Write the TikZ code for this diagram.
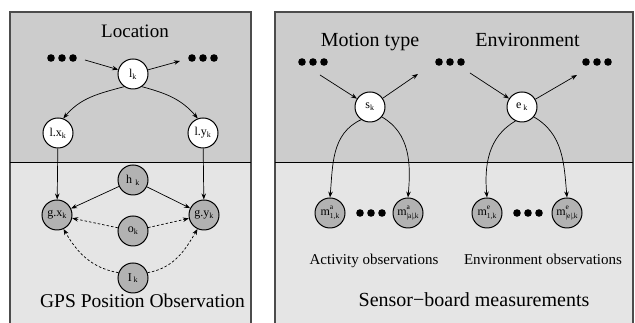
\documentclass[tikz,border=0pt]{standalone}
\usepackage{fontspec}
\setmainfont{Liberation Serif}
\usetikzlibrary{arrows.meta}

% measurement node label: m with stacked super- and subscript
\newcommand{\mlab}[2]{m\makebox[0pt][l]{\raisebox{1.05ex}{\fontsize{7.5}{8}\selectfont #1}}\raisebox{-0.6ex}{\fontsize{7.5}{8}\selectfont #2}}

\begin{document}
\begin{tikzpicture}[
    x=1pt, y=1pt,
    frame/.style={draw=black!70,line width=1.2pt},
    hid/.style={circle,draw,line width=1pt,fill=white,minimum size=30pt,inner sep=0pt,font=\fontsize{12}{14}\selectfont},
    obs/.style={hid,fill=black!30},
    arr/.style={-{Stealth[length=6pt,width=4.5pt]},line width=0.7pt},
    darr/.style={arr,dash pattern=on 2.5pt off 2pt},
    dotrow/.style={minimum width=32pt,minimum height=9pt,inner sep=0pt,
      path picture={\foreach \d in {-11,0,11}
        \fill ([xshift=\d pt]path picture bounding box.center) circle (3.8pt);}},
    big/.style={anchor=base,font=\fontsize{20}{22}\selectfont},
    small/.style={anchor=base,font=\fontsize{15}{17}\selectfont},
  ]
  \useasboundingbox (0,0) rectangle (635,323);

  % panels
  \fill[black!20] (10,161) rectangle (251,311);
  \fill[black!10] (10,0) rectangle (251,161);
  \draw[frame] (10,0) -- (10,311) -- (251,311) -- (251,0);
  \draw[line width=0.8pt] (10,161) -- (251,161);
  \fill[black!20] (275,161) rectangle (633,311);
  \fill[black!10] (275,0) rectangle (633,161);
  \draw[frame] (275,0) -- (275,311) -- (633,311) -- (633,0);
  \draw[line width=0.8pt] (275,161) -- (633,161);

  % location model
  \node[big,font=\fontsize{19}{21}\selectfont] (loc) at (135,285) {Location};
  \node[dotrow] (dl) at (62,265) {};
  \node[dotrow] (dr) at (203,265) {};
  \coordinate (lin) at (85,263);
  \coordinate (lout) at (180,262);
  \node[hid] (lk) at (133,249) {l\textsubscript{k}};
  \node[hid] (lx) at (58,190) {l.x\textsubscript{k}};
  \node[hid] (ly) at (203,190) {l.y\textsubscript{k}};
  \node[obs] (hk) at (133,143) {h\,\textsubscript{\,k}};
  \node[obs] (gx) at (57,108) {g.x\textsubscript{k}};
  \node[obs] (gy) at (204,108) {g.y\textsubscript{k}};
  \node[obs] (ok) at (133,92) {o\textsubscript{k}};
  \node[obs] (Ik) at (133,45) {I\,\textsubscript{k}};
  \node[big,font=\fontsize{19.5}{21}\selectfont] (gps) at (142.5,15) {GPS Position Observation};

  \draw[arr] (lin) -- (lk);
  \draw[arr] (lk) -- (lout);
  \draw[arr] (lk.235) to[out=195,in=50] (lx.70);
  \draw[arr] (lk.305) to[out=-15,in=130] (ly.110);
  \draw[arr] (lx) -- (gx);
  \draw[arr] (ly) -- (gy);
  \draw[arr] (hk) -- (gx);
  \draw[arr] (hk) -- (gy);
  \draw[darr] (ok) -- (gx);
  \draw[darr] (ok) -- (gy);
  \draw[darr] (Ik.160) to[out=170,in=-60] (gx.-65);
  \draw[darr] (Ik.20) to[out=10,in=-120] (gy.-115);

  % motion type and environment
  \node[big] (mot) at (370,276) {Motion type};
  \node[big] (env) at (527.5,276) {Environment};
  \node[dotrow] (ds) at (313,261) {};
  \node[dotrow] (dm) at (450,261) {};
  \node[dotrow] (de) at (597,261) {};
  \coordinate (sin) at (320,248);
  \coordinate (sout) at (418,249);
  \coordinate (ein) at (470,250);
  \coordinate (eout) at (577,248);
  \node[hid] (sk) at (370,216) {s\textsubscript{k}};
  \node[hid] (ek) at (522,216) {e\,\textsubscript{k}};

  \node[obs] (ma1) at (330,110) {\mlab{a}{1,k}};
  \node[obs] (maN) at (408,110) {\mlab{a}{|a|,k}};
  \node[obs] (me1) at (487,110) {\mlab{e}{1,k}};
  \node[obs] (meN) at (567,110) {\mlab{e}{|e|,k}};
  \node[dotrow] (dma) at (371,110) {};
  \node[dotrow] (dme) at (528,110) {};

  \draw[arr] (sin) -- (sk);
  \draw[arr] (sk) -- (sout);
  \draw[arr] (ein) -- (ek);
  \draw[arr] (ek) -- (eout);
  \draw[arr] (sk.235) to[out=205,in=85] (ma1.north);
  \draw[arr] (sk.-40) to[out=-30,in=85] (maN.north);
  \draw[arr] (ek.245) to[out=210,in=95] (me1.north);
  \draw[arr] (ek.-40) to[out=-30,in=95] (meN.north);

  \node[small] (aob) at (374,58) {Activity observations};
  \node[small] (eob) at (543,58) {Environment observations};
  \node[big] (sbm) at (474,16) {Sensor\textminus board measurements};

\end{tikzpicture}
\end{document}
